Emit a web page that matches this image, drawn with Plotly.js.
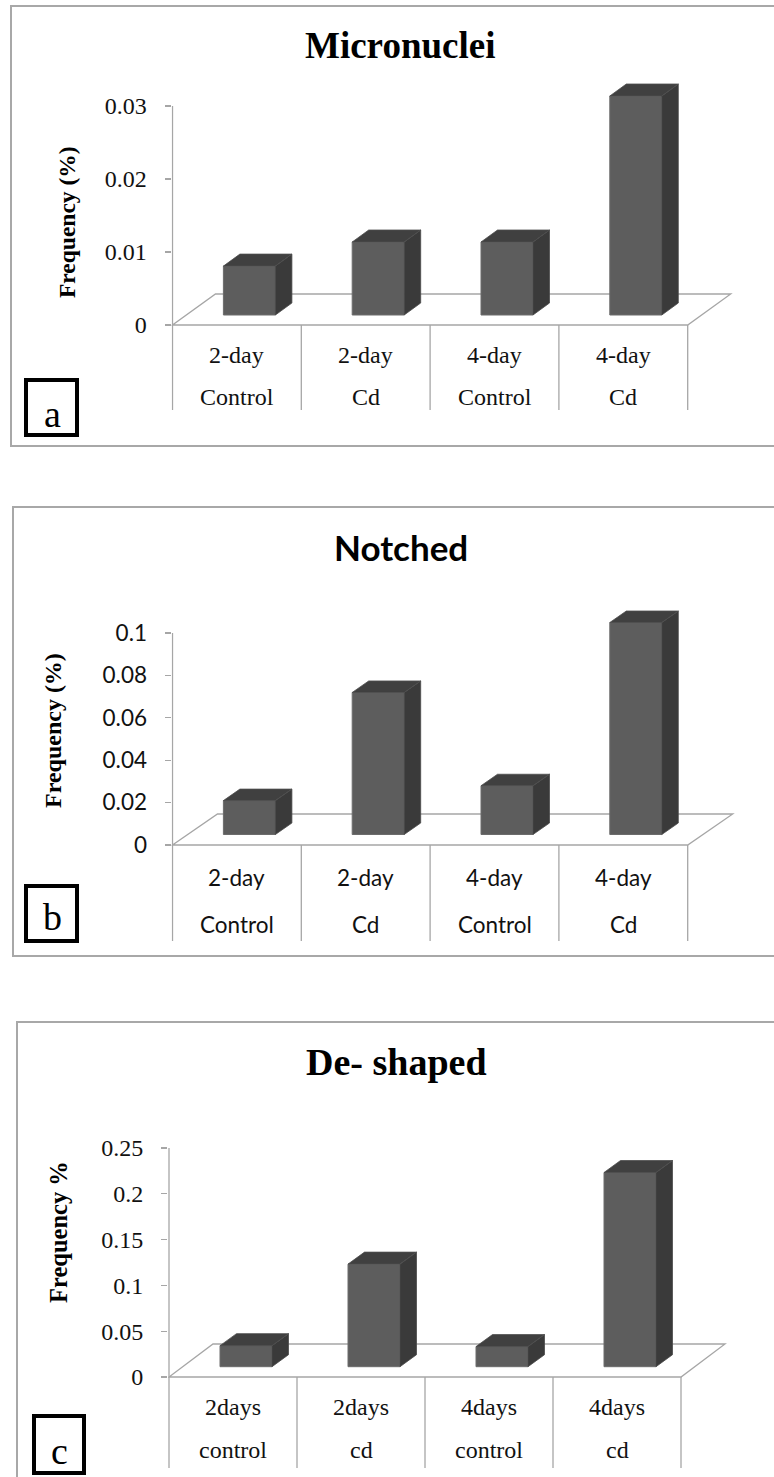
<!DOCTYPE html>
<html><head><meta charset="utf-8">
<script src="https://cdn.plot.ly/plotly-3.0.1.min.js"></script>
<style>html,body{margin:0;padding:0;background:#fff}</style>
</head><body><div id="chart" style="width:774px;height:1477px"></div>
<script>
// ---------------- DATA ----------------
const titleA = "Micronuclei";
const catTopA = ["2-day", "2-day", "4-day", "4-day"];
const catBotA = ["Control", "Cd", "Control", "Cd"];
const valuesA = [0.0067, 0.01, 0.01, 0.03];
const ticksA = [0, 0.01, 0.02, 0.03];
const ytitleA = "Frequency (%)";

const titleB = "Notched";
const catTopB = ["2-day", "2-day", "4-day", "4-day"];
const catBotB = ["Control", "Cd", "Control", "Cd"];
const valuesB = [0.016, 0.067, 0.023, 0.1];
const ticksB = [0, 0.02, 0.04, 0.06, 0.08, 0.1];
const ytitleB = "Frequency (%)";

const titleC = "De- shaped";
const catTopC = ["2days", "2days", "4days", "4days"];
const catBotC = ["control", "cd", "control", "cd"];
const valuesC = [0.023, 0.112, 0.022, 0.212];
const ticksC = [0, 0.05, 0.1, 0.15, 0.2, 0.25];
const ytitleC = "Frequency %";

const panelLetters = ["a", "b", "c"];

// ---------------- LAYOUT / STYLE ----------------
const W = 774, H = 1477;
const serif = "Liberation Serif";
const sans = "Lato";
const txt = "#111";

const datasets = [
  {title: titleA, top: catTopA, bot: catBotA, vals: valuesA, ticks: ticksA, ytitle: ytitleA},
  {title: titleB, top: catTopB, bot: catBotB, vals: valuesB, ticks: ticksB, ytitle: ytitleB},
  {title: titleC, top: catTopC, bot: catBotC, vals: valuesC, ticks: ticksC, ytitle: ytitleC}
];

const geo = [
  {axisX: 172.5, catW: 128.8, zeroY: 325, topY: 106, domTop: 60, domBot: 420, right: 765,
   fdx: 43, fdy: 31, sx: 12.5, sy: 10, barW: 52, bdx: 16.5, bdy: 12,
   row1: 355, row2: 397, lineBot: 410,
   tickFont: {family: serif, size: 24, color: txt}, catFont: {family: serif, size: 24, color: txt},
   titleFont: {family: serif, size: 37, color: "#000"}, titleX: 400, titleY: 45,
   ytFont: {family: serif, size: 23.5, color: "#000"}, ytX: 67, ytY: 222,
   border: [11, 6, 800, 446], box: [26, 380, 77, 435], letterXY: [52, 414]},
  {axisX: 172.5, catW: 128.8, zeroY: 845, topY: 633, domTop: 580, domBot: 948, right: 765,
   fdx: 45, fdy: 31, sx: 12.5, sy: 10.5, barW: 52, bdx: 16.5, bdy: 11.5,
   row1: 878, row2: 925, lineBot: 941,
   tickFont: {family: sans, size: 22.5, color: txt}, catFont: {family: sans, size: 22.5, color: txt},
   titleFont: {family: sans, size: 35, color: "#000"}, titleX: 401, titleY: 547,
   ytFont: {family: serif, size: 24, color: "#000"}, ytX: 53, ytY: 731,
   border: [13, 507, 800, 956], box: [26, 886, 77, 941], letterXY: [52, 917]},
  {axisX: 169, catW: 128, zeroY: 1377, topY: 1148, domTop: 1125, domBot: 1474, right: 760,
   fdx: 44, fdy: 33, sx: 13, sy: 10.3, barW: 52, bdx: 16.5, bdy: 12,
   row1: 1407, row2: 1450, lineBot: 1468,
   tickFont: {family: serif, size: 24, color: txt}, catFont: {family: serif, size: 24, color: txt},
   titleFont: {family: serif, size: 38, color: "#000"}, titleX: 397, titleY: 1062,
   ytFont: {family: serif, size: 24.5, color: "#000"}, ytX: 58, ytY: 1232,
   border: [17, 1022, 800, 1500], box: [34, 1416, 84, 1473], letterXY: [59, 1451]}
];

const gridCol = "#a6a6a6";
const frontCol = "#5d5d5d", topCol = "#404040", sideCol = "#3a3a3a";

const traces = [];
const shapes = [];
const annotations = [];
const layout = {
  width: W, height: H, margin: {l: 0, r: 0, t: 0, b: 0},
  paper_bgcolor: "#fff", plot_bgcolor: "rgba(0,0,0,0)", showlegend: false
};

datasets.forEach((d, p) => {
  const g = geo[p];
  const sfx = p === 0 ? "" : String(p + 1);
  const xid = "x" + sfx, yid = "y" + sfx;
  const n = d.vals.length;
  const tmax = Math.max(...d.ticks);
  const ppu = (g.zeroY - g.topY) / tmax;          // pixels per value unit
  const leftPx = g.axisX - 1;
  layout["xaxis" + sfx] = {
    domain: [leftPx / W, g.right / W],
    range: [-0.5 - 1 / g.catW, -0.5 + (g.right - g.axisX) / g.catW],
    anchor: yid, visible: false, fixedrange: true
  };
  layout["yaxis" + sfx] = {
    domain: [1 - g.domBot / H, 1 - g.domTop / H],
    range: [-(g.domBot - g.zeroY) / ppu, (g.zeroY - g.domTop) / ppu],
    anchor: xid, tickmode: "array", tickvals: d.ticks, ticktext: d.ticks.map(String),
    ticks: "outside", ticklen: 6, tickwidth: 1.3, tickcolor: gridCol,
    ticklabelstandoff: 13,
    showgrid: false, zeroline: false, showline: false, tickfont: g.tickFont, fixedrange: true
  };

  // floor (3D base plane)
  const fdxU = g.fdx / g.catW, fdyU = g.fdy / ppu;
  const x0 = -0.5, x1 = n - 0.5;
  shapes.push({type: "path", xref: xid, yref: yid, layer: "below",
    path: `M ${x0},0 L ${x1},0 L ${x1 + fdxU},${fdyU} L ${x0 + fdxU},${fdyU} Z`,
    line: {color: gridCol, width: 1.3}});
  // category separators + value axis line
  const yLB = -(g.lineBot - g.zeroY) / ppu;
  for (let k = 0; k <= n; k++) {
    shapes.push({type: "line", xref: xid, yref: yid, layer: "below",
      x0: -0.5 + k, x1: -0.5 + k, y0: yLB, y1: k === 0 ? tmax : 0,
      line: {color: gridCol, width: 1.3}});
  }

  // bars
  const sxU = g.sx / g.catW, syU = g.sy / ppu, wU = g.barW / g.catW;
  const bdxU = g.bdx / g.catW, bdyU = g.bdy / ppu;
  const xs = d.vals.map((v, i) => i + sxU);
  traces.push({type: "bar", x: xs, y: d.vals, base: d.vals.map(() => syU), width: wU,
    xaxis: xid, yaxis: yid, marker: {color: frontCol, line: {color: "#6c6c6c", width: 1}},
    hoverinfo: "skip"});
  const topX = [], topY = [], sideX = [], sideY = [];
  d.vals.forEach((v, i) => {
    const xl = xs[i] - wU / 2, xr = xs[i] + wU / 2, yt = syU + v;
    topX.push(xl, xr, xr + bdxU, xl + bdxU, xl, null);
    topY.push(yt, yt, yt + bdyU, yt + bdyU, yt, null);
    sideX.push(xr, xr + bdxU, xr + bdxU, xr, xr, null);
    sideY.push(syU, syU + bdyU, yt + bdyU, yt, syU, null);
  });
  traces.push({type: "scatter", mode: "lines", x: sideX, y: sideY, fill: "toself",
    fillcolor: sideCol, line: {color: "#4a4a4a", width: 0.8}, xaxis: xid, yaxis: yid, hoverinfo: "skip"});
  traces.push({type: "scatter", mode: "lines", x: topX, y: topY, fill: "toself",
    fillcolor: topCol, line: {color: "#4e4e4e", width: 0.8}, xaxis: xid, yaxis: yid, hoverinfo: "skip"});

  // category labels (two rows)
  d.top.forEach((t, i) => {
    annotations.push({xref: xid, yref: yid, x: i, y: -(g.row1 - g.zeroY) / ppu, text: t,
      showarrow: false, font: g.catFont, xanchor: "center", yanchor: "middle"});
    annotations.push({xref: xid, yref: yid, x: i, y: -(g.row2 - g.zeroY) / ppu, text: d.bot[i],
      showarrow: false, font: g.catFont, xanchor: "center", yanchor: "middle"});
  });

  // chart title
  annotations.push({xref: "paper", yref: "paper", x: g.titleX / W, y: 1 - g.titleY / H,
    text: "<b>" + d.title + "</b>", showarrow: false, font: g.titleFont, xanchor: "center", yanchor: "middle"});
  // y title
  annotations.push({xref: "paper", yref: "paper", x: g.ytX / W, y: 1 - g.ytY / H,
    text: "<b>" + d.ytitle + "</b>", textangle: -90, showarrow: false, font: g.ytFont,
    xanchor: "center", yanchor: "middle"});

  // panel border
  const b = g.border;
  shapes.push({type: "rect", xref: "paper", yref: "paper", x0: b[0] / W, x1: b[2] / W,
    y0: 1 - b[3] / H, y1: 1 - b[1] / H, line: {color: "#a8a8a8", width: 2}});
  // letter box
  const bx = g.box;
  shapes.push({type: "rect", xref: "paper", yref: "paper", x0: bx[0] / W, x1: bx[2] / W,
    y0: 1 - bx[3] / H, y1: 1 - bx[1] / H, line: {color: "#000", width: 4}});
  annotations.push({xref: "paper", yref: "paper", x: g.letterXY[0] / W, y: 1 - g.letterXY[1] / H,
    text: panelLetters[p], showarrow: false, font: {family: serif, size: 38, color: "#000"},
    xanchor: "center", yanchor: "middle"});
});

layout.shapes = shapes;
layout.annotations = annotations;
Plotly.newPlot("chart", traces, layout, {staticPlot: true, displayModeBar: false});
</script>
</body></html>
